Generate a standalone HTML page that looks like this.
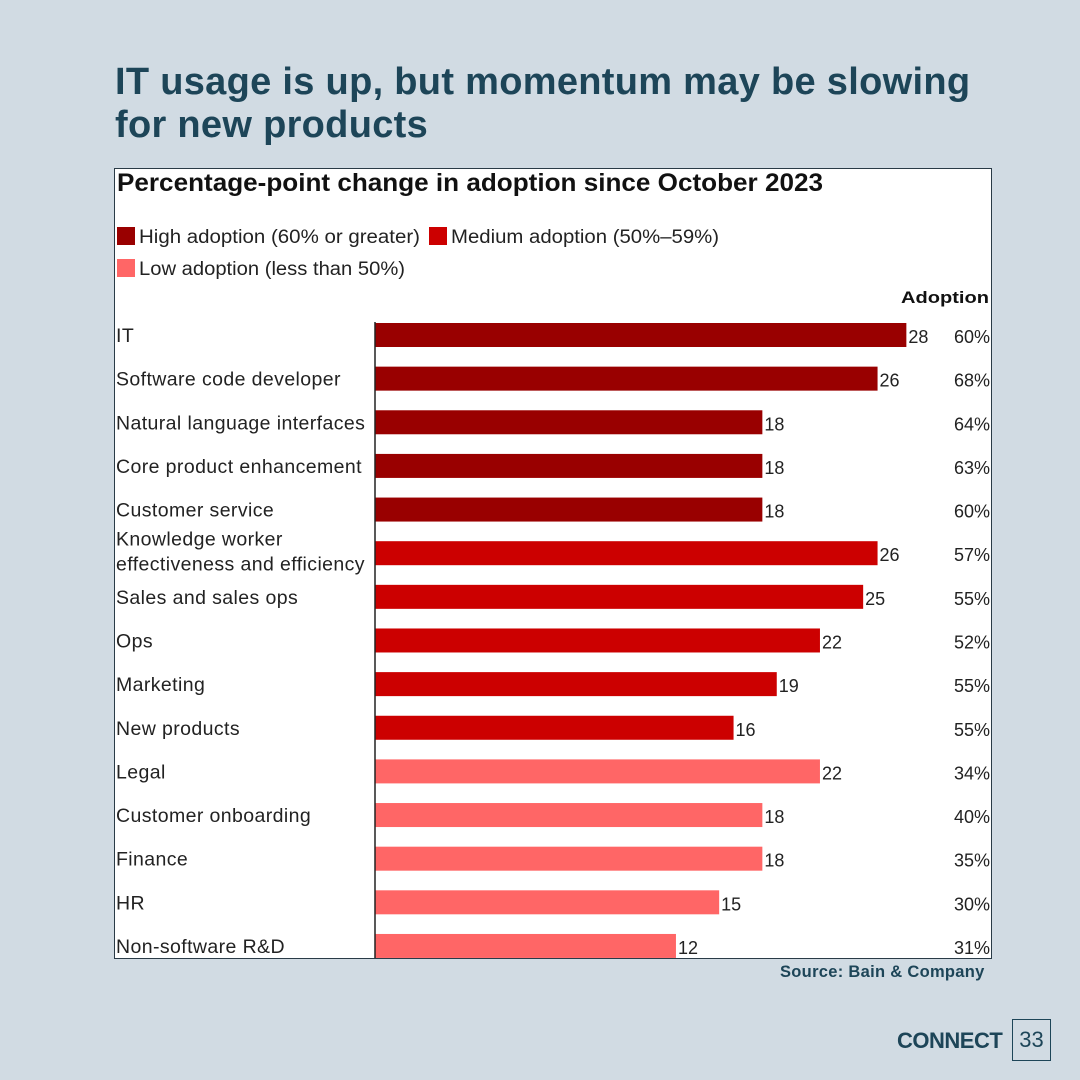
<!DOCTYPE html>
<html><head><meta charset="utf-8">
<style>
body{margin:0;width:1080px;height:1080px;background:#d1dbe3;font-family:"Liberation Sans",sans-serif;position:relative;overflow:hidden}
#title{position:absolute;left:115px;top:61px;font-size:38px;letter-spacing:0.3px;font-weight:bold;color:#1d4558;line-height:43px}
#box{position:absolute;left:114px;top:168px;width:876px;height:789px;background:#fff;border:1px solid #2a3b47}
#src{position:absolute;left:780px;top:963px;font-size:16.5px;letter-spacing:0.3px;font-weight:bold;color:#1d4558}
#logo{position:absolute;left:897px;top:1028px;font-size:22px;font-weight:bold;color:#1d4558;letter-spacing:-0.5px}
#pg{position:absolute;left:1012px;top:1019px;width:39px;height:42px;border:1.5px solid #1d4558;box-sizing:border-box;font-size:22px;color:#1d4558;text-align:center;line-height:40px}
</style></head><body>
<div id="title">IT usage is up, but momentum may be slowing<br>for new products</div>
<div id="box">
<svg id="chart" width="876" height="789"></svg>
</div>
<div id="src">Source: Bain &amp; Company</div>
<div id="logo">CONNECT</div>
<div id="pg">33</div>
<script>
const categories=["IT","Software code developer","Natural language interfaces","Core product enhancement","Customer service","Knowledge worker|effectiveness and efficiency","Sales and sales ops","Ops","Marketing","New products","Legal","Customer onboarding","Finance","HR","Non-software R&D"];
const changes=[28,26,18,18,18,26,25,22,19,16,22,18,18,15,12];
const adoption=[60,68,64,63,60,57,55,52,55,55,34,40,35,30,31];
const tiers=["high","high","high","high","high","med","med","med","med","med","low","low","low","low","low"];
const legendLabels=["High adoption (60% or greater)","Medium adoption (50%–59%)","Low adoption (less than 50%)"];
const colors={high:"#990000",med:"#cc0000",low:"#ff6666"};
const svg=document.getElementById('chart');
const NS="http://www.w3.org/2000/svg";
const ox=-114, oy=-168;
const axisX=374;
function xs(v){return axisX+(v+8.9)*14.4;}
function ys(i){return 334+i*43.64;}
function mk(tag,attrs,txt){const e=document.createElementNS(NS,tag);for(const k in attrs)e.setAttribute(k,attrs[k]);if(txt!==undefined)e.textContent=txt;svg.appendChild(e);return e;}
let t=mk('text',{x:2,y:22,'font-size':25,'font-weight':'bold',fill:'#111',textLength:706,lengthAdjust:'spacingAndGlyphs'},'Percentage-point change in adoption since October 2023');


const leg=[[2,60,'high',legendLabels[0],281],[314,60,'med',legendLabels[1],268],[2,92,'low',legendLabels[2],266]];
leg.forEach((l,k)=>{
 let r=mk('rect',{x:l[0],y:l[1]-2,width:18,height:18,fill:colors[l[2]]});
 
 
 let tt=mk('text',{x:l[0]+22,y:l[1]+14,'font-size':19,fill:'#222',textLength:l[4],lengthAdjust:'spacingAndGlyphs'},l[3]);
 
 
});
let ah=mk('text',{x:874,y:134,'font-size':17,'font-weight':'bold',fill:'#111','text-anchor':'end',textLength:88,lengthAdjust:'spacingAndGlyphs'},'Adoption');


categories.forEach((c,i)=>{
 const cy=ys(i)+oy;
 const parts=c.split('|');
 parts.forEach((p,j)=>{
  let lt=mk('text',{x:1,y:cy+7+(parts.length>1?(j-0.5)*25-2:0),'font-size':19.5,'letter-spacing':'0.4',fill:'#222'},p);
  
  
 });
 const x1=xs(changes[i])+ox;
 let b=mk('rect',{x:axisX+ox,y:cy-12,width:x1-(axisX+ox),height:24,fill:colors[tiers[i]]});
 
 
 let v=mk('text',{x:x1+2,y:cy+8,'font-size':18,fill:'#222'},changes[i]);
 
 
 let a=mk('text',{x:875,y:cy+8,'font-size':18,fill:'#222','text-anchor':'end'},adoption[i]+'%');
 
 
});
let ax=mk('line',{x1:axisX+ox,x2:axisX+ox,y1:ys(0)+oy-13,y2:789,stroke:'#222','stroke-width':1.5});


</script>
</body></html>
